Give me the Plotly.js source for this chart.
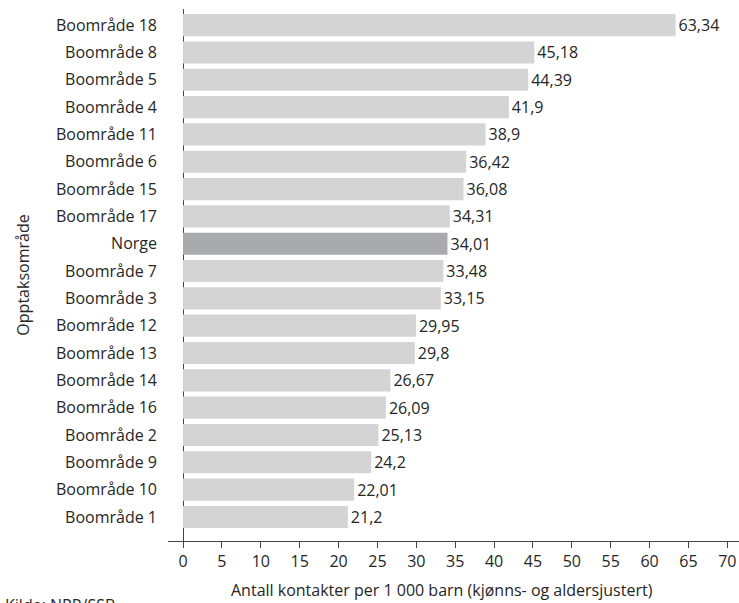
<!DOCTYPE html>
<html>
<head>
<meta charset="utf-8">
<script src="https://cdn.plot.ly/plotly-3.0.1.min.js"></script>
<style>html,body{margin:0;padding:0;background:#fff;}#chart{width:739px;height:603px;}</style>
</head>
<body>
<div id="chart"></div>
<script>
// Areas listed bottom to top
const areas = ["Boområde 1","Boområde 10","Boområde 9","Boområde 2","Boområde 16","Boområde 14","Boområde 13","Boområde 12","Boområde 3","Boområde 7","Norge","Boområde 17","Boområde 15","Boområde 6","Boområde 11","Boområde 4","Boområde 5","Boområde 8","Boområde 18"];
const contacts = [21.2,22.01,24.2,25.13,26.09,26.67,29.8,29.95,33.15,33.48,34.01,34.31,36.08,36.42,38.9,41.9,44.39,45.18,63.34];
const xTicks = [0,5,10,15,20,25,30,35,40,45,50,55,60,65,70];
const xTitle = "Antall kontakter per 1 000 barn (kjønns- og aldersjustert)";
const yTitle = "Opptaksområde";
const source = "Kilde: NPR/SSB";

const barColors = areas.map(a => a === "Norge" ? "#a9aaad" : "#d4d4d5");
const labels = contacts.map(v => String(v).replace(".", ","));

const font = {family: "Open Sans, sans-serif", size: 16, color: "#262626"};

Plotly.newPlot("chart", [{
  type: "bar",
  orientation: "h",
  y: areas,
  x: contacts,
  text: labels,
  textposition: "outside",
  textfont: font,
  cliponaxis: false,
  marker: {color: barColors},
  hoverinfo: "none"
}], {
  width: 739, height: 603,
  margin: {l: 168, r: 0, t: 9, b: 62},
  paper_bgcolor: "#fff", plot_bgcolor: "#fff",
  font: font,
  bargap: 0.19,
  showlegend: false,
  xaxis: {
    range: [-1.93, 71.5],
    tickvals: xTicks,
    ticktext: xTicks.map(String),
    ticks: "outside", ticklen: 6, tickcolor: "#444",
    showline: true, linecolor: "#444", linewidth: 1,
    showgrid: false,
    zeroline: true, zerolinecolor: "#444", zerolinewidth: 1,
    tickfont: font
  },
  yaxis: {
    type: "category",
    range: [-0.88, 18.59],
    ticks: "", showgrid: false, zeroline: false, showline: false,
    ticklabelstandoff: 10,
    tickfont: font,
    title: {text: yTitle, font: font, standoff: 22}
  },
  annotations: [{
    // x-axis title, placed a little left of the plot centre
    text: xTitle, xref: "paper", yref: "paper",
    x: 0.48, y: 0, yshift: -36,
    xanchor: "center", yanchor: "top", showarrow: false,
    font: font
  }, {
    text: source, xref: "paper", yref: "paper",
    x: 0, y: 0, xshift: -165, yshift: -51,
    xanchor: "left", yanchor: "top", showarrow: false,
    font: font
  }]
}, {displayModeBar: false, staticPlot: true});
</script>
</body>
</html>
